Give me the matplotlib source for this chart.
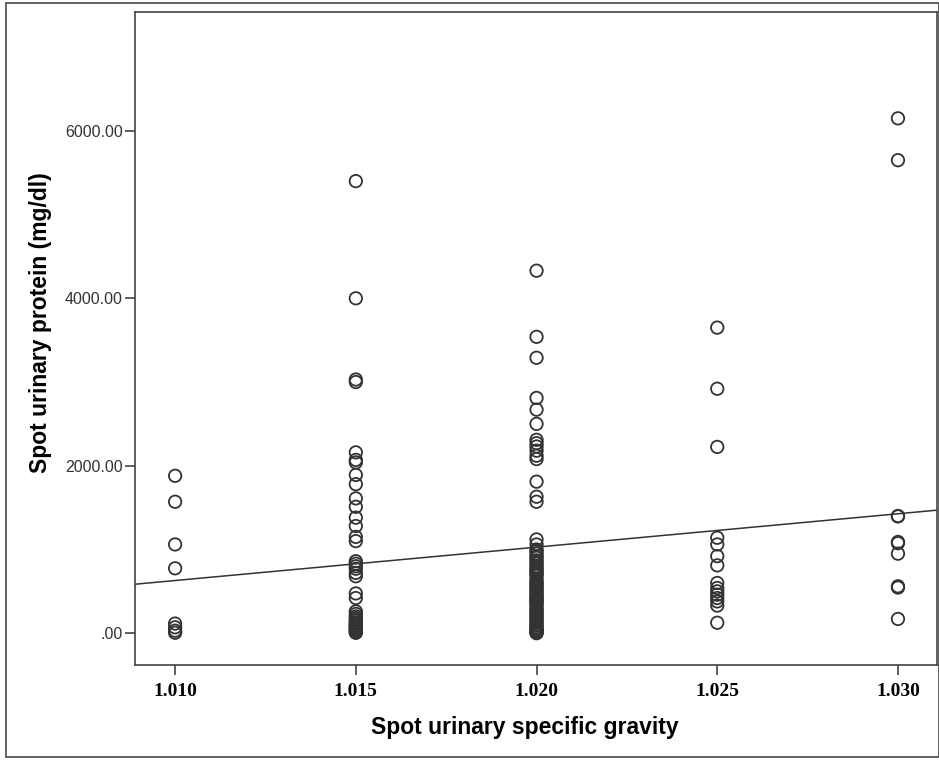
import matplotlib
matplotlib.use('Agg')
import matplotlib.pyplot as plt
import numpy as np
from matplotlib.patches import Rectangle

# measured values per specific gravity group (dense clusters hold many overlapping points)
sg_1010 = [1880, 1570, 1060, 775, 115, 70, 30, 5]
sg_1015 = [5400, 4000, 3030, 3000, 2160, 2070, 2040, 1890, 1780, 1610, 1510,
           1380, 1280, 1150, 1100, 860, 830, 800, 770, 720, 680, 475, 420,
           260, 230, 200, 180, 160, 150, 130, 120, 110, 90, 85, 75, 60, 50,
           45, 30, 20, 10, 5]
sg_1020 = [4330, 3540, 3290, 2810, 2670, 2500, 2310, 2270, 2230, 2180, 2120,
           2080, 1810, 1630, 1570, 1120, 1060, 1000, 980, 950, 920, 900, 870,
           850, 830, 800, 780, 760, 740, 720, 700, 690, 650, 620, 600, 580,
           560, 540, 520, 500, 480, 460, 440, 420, 400, 400, 380, 360, 340,
           310, 290, 270, 250, 230, 210, 190, 170, 150, 130, 110, 90, 70, 60,
           40, 30, 20, 15, 10, 5, 0]
sg_1025 = [3650, 2920, 2225, 1140, 1060, 920, 810, 600, 540, 500, 460, 420,
           380, 330, 125]
sg_1030 = [6150, 5650, 1400, 1395, 1090, 1075, 950, 560, 545, 170]

groups = [1.010, 1.015, 1.020, 1.025, 1.030]
values = [sg_1010, sg_1015, sg_1020, sg_1025, sg_1030]

x = np.concatenate([[g] * len(v) for g, v in zip(groups, values)])
y = np.concatenate([np.array(v, dtype=float) for v in values])

xticks = [1.010, 1.015, 1.020, 1.025, 1.030]
xtick_labels = ['1.010', '1.015', '1.020', '1.025', '1.030']
yticks = [0, 2000, 4000, 6000]
ytick_labels = ['.00', '2000.00', '4000.00', '6000.00']

fig = plt.figure(figsize=(9.39, 7.6), dpi=100)
ax = fig.add_axes([135 / 939, 1 - 665 / 760, (937 - 135) / 939, (665 - 12) / 760])

ax.scatter(x, y, s=80, facecolors='none', edgecolors='#333333', linewidths=1.3, zorder=3)

# linear fit line
slope, intercept = np.polyfit(x, y, 1)
xl = np.array([1.0085, 1.0315])
ax.plot(xl, slope * xl + intercept, color='#333333', linewidth=1.1, zorder=2)

ax.set_xlim(1.00889, 1.03108)
ax.set_ylim(-380, 7420)
ax.set_xticks(xticks)
ax.set_xticklabels(xtick_labels, fontfamily='Liberation Serif', fontweight='bold', fontsize=14)
ax.set_yticks(yticks)
ax.set_yticklabels(ytick_labels, fontfamily='Liberation Sans', fontsize=11.5, color='#333333')
ax.tick_params(axis='both', length=7, width=1.2, color='#444444')
ax.tick_params(axis='y', pad=2)
ax.tick_params(axis='x', pad=6)
for s in ax.spines.values():
    s.set_color('#444444')
    s.set_linewidth(1.2)

ax.set_xlabel('Spot urinary specific gravity', fontfamily='Liberation Sans',
              fontweight='bold', fontsize=16.5)
ax.set_ylabel('Spot urinary protein (mg/dl)', fontfamily='Liberation Sans',
              fontweight='bold', fontsize=16.5)
ax.xaxis.set_label_coords(0.486, -0.078)
ax.yaxis.set_label_coords(-0.1035, 0.525)

# outer frame around the figure
fig.patches.append(Rectangle((6 / 939, 3 / 760), 1 - 6 / 939 - 0.0005, 1 - 6 / 760,
                             transform=fig.transFigure, fill=False,
                             edgecolor='#555555', linewidth=1.3))

fig.savefig('out.png', dpi=100)
